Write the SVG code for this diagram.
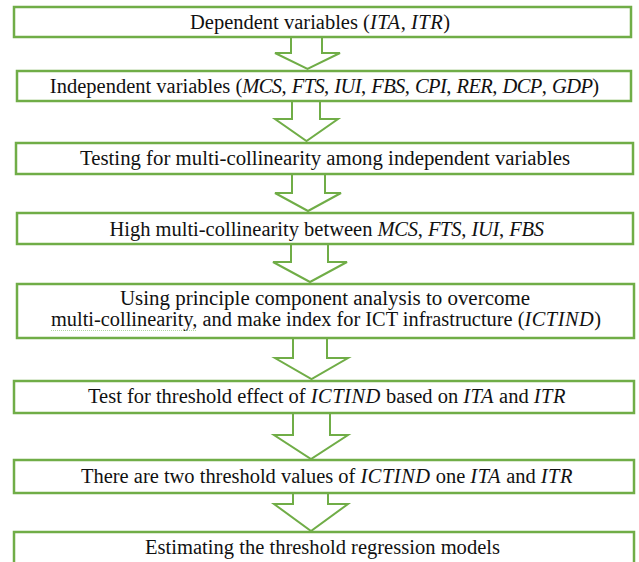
<svg xmlns="http://www.w3.org/2000/svg" width="639" height="562" viewBox="0 0 639 562">
<style>
.box{fill:#fff;stroke:#70ad47;stroke-width:2.5}
.arr{fill:#fff;stroke:#70ad47;stroke-width:2;stroke-linejoin:miter}
.t{font-family:"Liberation Serif", serif;font-size:20.5px;fill:#111;text-anchor:middle}
.m{font-style:italic;letter-spacing:0.5px}
.m2{font-style:italic;letter-spacing:-0.6px}
.m4{font-style:italic;letter-spacing:-0.3px}
</style>
<rect width="639" height="562" fill="#fff"/>
<g id="connectors">
<path class="arr" d="M291,37 V53 H275 L307.5,69 L340,53 H322 V37"/>
<path class="arr" d="M292,101 V119 H275 L306.5,141 L338,119 H320 V101"/>
<path class="arr" d="M292,174 V193 H275 L308,211 L341,193 H325 V174"/>
<path class="arr" d="M291,244 V262 H273 L310,282 L347,262 H328 V244"/>
<path class="arr" d="M293,338 V358 H275 L311.5,379 L348,358 H327 V338"/>
<path class="arr" d="M293,413 V435 H274 L311,459 L348,435 H330 V413"/>
<path class="arr" d="M293,493 V504 H274 L311,531 L348,504 H328 V493"/>
</g>
<g id="n1"><rect class="box" x="14" y="7" width="617" height="30"/>
<text class="t" x="320" y="28.5" textLength="260" lengthAdjust="spacingAndGlyphs">Dependent variables (<tspan class="m">ITA</tspan>, <tspan class="m">ITR</tspan>)</text></g>
<g id="n2"><rect class="box" x="17" y="71" width="614" height="30"/>
<text class="t" x="324.5" y="93">Independent variables (<tspan class="m2">MCS</tspan>, <tspan class="m2">FTS</tspan>, <tspan class="m2">IUI</tspan>, <tspan class="m2">FBS</tspan>, <tspan class="m2">CPI</tspan>, <tspan class="m2">RER</tspan>, <tspan class="m2">DCP</tspan>, <tspan class="m2">GDP</tspan>)</text></g>
<g id="n3"><rect class="box" x="16" y="143" width="617" height="31"/>
<text class="t" x="325" y="164.5" textLength="490" lengthAdjust="spacingAndGlyphs">Testing for multi-collinearity among independent variables</text></g>
<g id="n4"><rect class="box" x="17" y="213" width="616" height="31"/>
<text class="t" x="326.5" y="235.5">High multi-collinearity between <tspan class="m4">MCS</tspan>, <tspan class="m4">FTS</tspan>, <tspan class="m4">IUI</tspan>, <tspan class="m4">FBS</tspan></text></g>
<g id="n5"><rect class="box" x="17" y="284" width="617" height="54"/>
<text class="t" x="325" y="304.5" textLength="410" lengthAdjust="spacingAndGlyphs">Using principle component analysis to overcome</text>
<text class="t" x="326" y="325.5" textLength="550" lengthAdjust="spacingAndGlyphs">multi-collinearity, and make index for ICT infrastructure (<tspan class="m">ICTIND</tspan>)</text>
<line x1="51" y1="330.5" x2="196" y2="330.5" stroke="#9cc987" stroke-width="0.8" stroke-dasharray="1,1"/></g>
<g id="n6"><rect class="box" x="14" y="381" width="620" height="32"/>
<text class="t" x="327" y="402.5" textLength="478" lengthAdjust="spacingAndGlyphs">Test for threshold effect of <tspan class="m">ICTIND</tspan> based on <tspan class="m">ITA</tspan> and <tspan class="m">ITR</tspan></text></g>
<g id="n7"><rect class="box" x="14" y="460" width="620" height="33"/>
<text class="t" x="327" y="482.5" textLength="492" lengthAdjust="spacingAndGlyphs">There are two threshold values of <tspan class="m">ICTIND</tspan> one <tspan class="m">ITA</tspan> and <tspan class="m">ITR</tspan></text></g>
<g id="n8"><rect class="box" x="14" y="532" width="620" height="40"/>
<text class="t" x="322.5" y="554" textLength="355" lengthAdjust="spacingAndGlyphs">Estimating the threshold regression models</text></g>
</svg>
